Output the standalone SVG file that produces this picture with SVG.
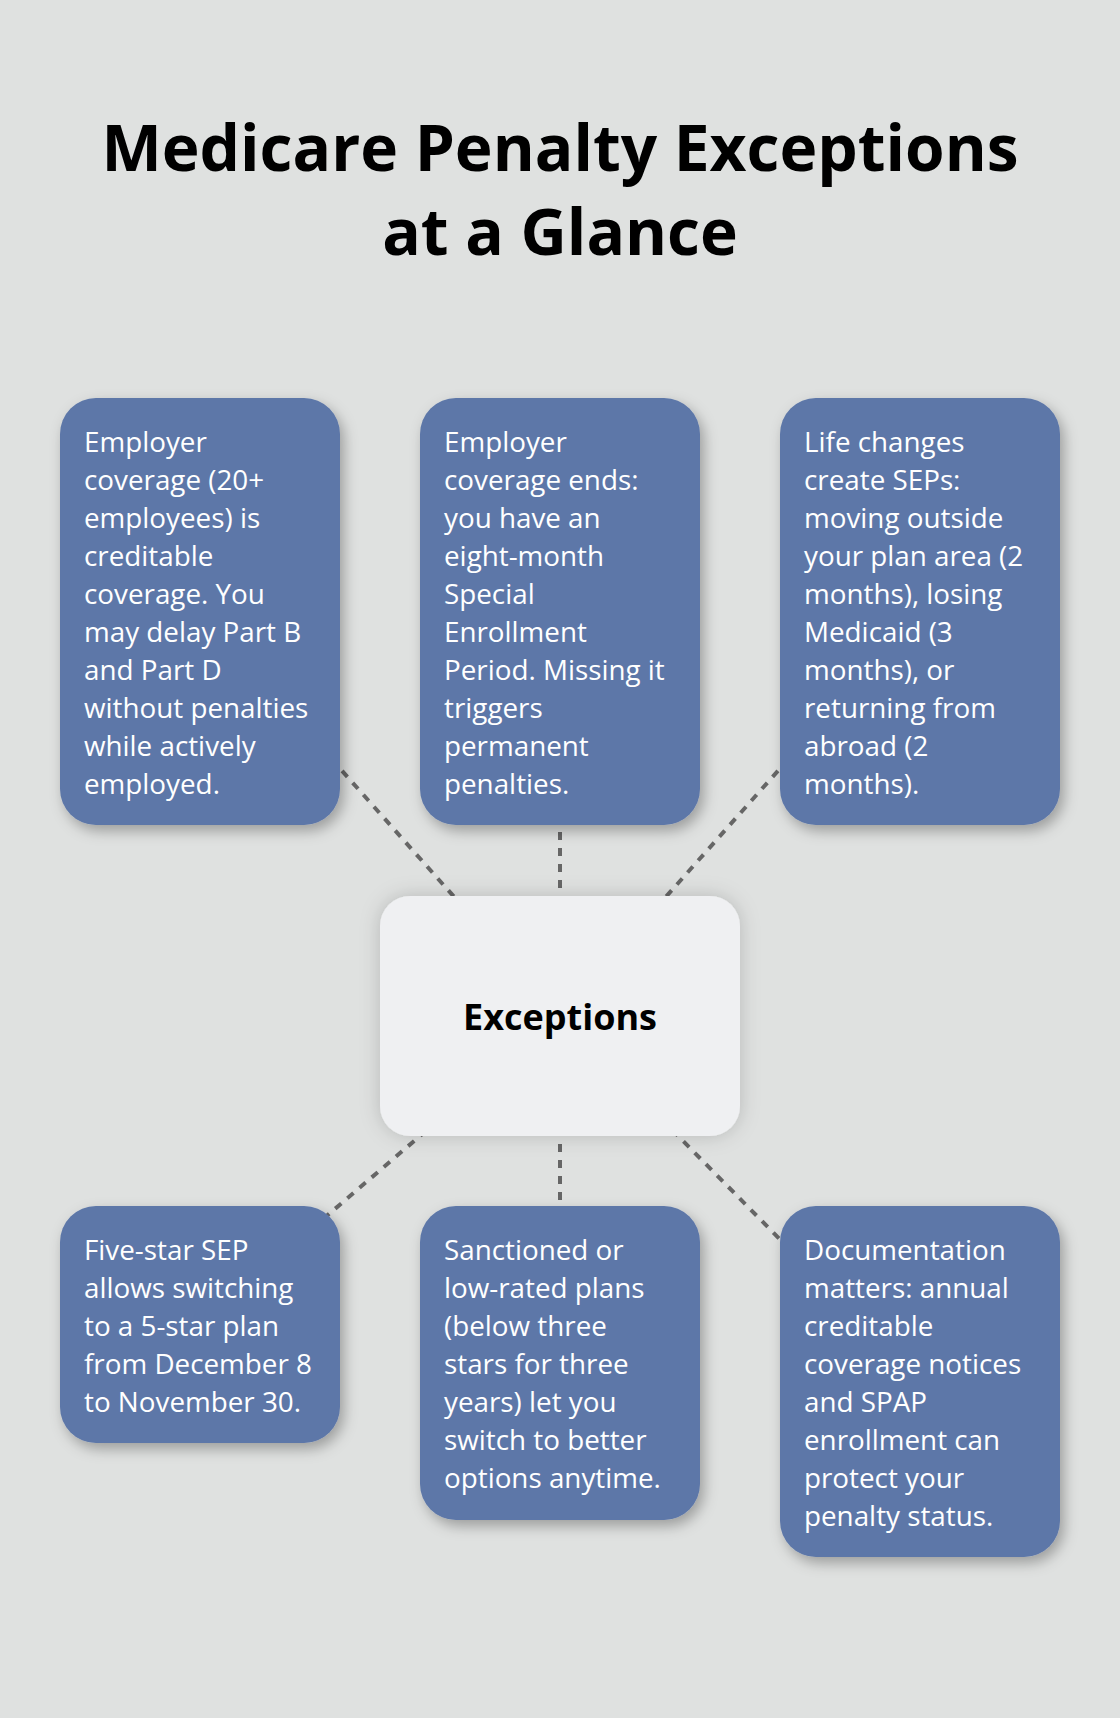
<svg xmlns="http://www.w3.org/2000/svg" width="1120" height="1718" viewBox="0 0 1120 1718">
<defs>
<filter id="sh" x="-20%" y="-20%" width="140%" height="140%">
<feDropShadow dx="4" dy="6" stdDeviation="7" flood-color="#000" flood-opacity="0.3"/>
</filter>
<filter id="shc" x="-20%" y="-20%" width="140%" height="140%">
<feDropShadow dx="0" dy="0" stdDeviation="10" flood-color="#000" flood-opacity="0.18"/>
</filter>
<style>
.title{font-family:"Open Sans","Noto Sans",sans-serif;font-weight:700;font-size:64px;fill:#000;text-anchor:middle}
.box{fill:#5d77a8;filter:url(#sh)}
.t{font-family:"Open Sans","Noto Sans",sans-serif;font-size:27.8px;fill:#fff}
.center{fill:#eff0f2;filter:url(#shc)}
.ct{font-family:"Open Sans","Noto Sans",sans-serif;font-weight:700;font-size:36px;fill:#000;text-anchor:middle}
.con{stroke:#666;stroke-width:4;stroke-dasharray:8 8;fill:none}
</style>
</defs>
<rect width="1120" height="1718" fill="#dfe1e0"/>
<g id="title">
<text class="title" x="560" y="171">Medicare Penalty Exceptions</text>
<text class="title" x="560" y="255">at a Glance</text>
</g>
<g id="connectors">
<line class="con" x1="560" y1="1016" x2="200" y2="611"/>
<line class="con" x1="560" y1="1016" x2="560" y2="611"/>
<line class="con" x1="560" y1="1016" x2="920" y2="611"/>
<line class="con" x1="560" y1="1016" x2="200" y2="1324.5"/>
<line class="con" x1="560" y1="1016" x2="560" y2="1363"/>
<line class="con" x1="560" y1="1016" x2="920" y2="1381.5"/>
</g>
<g id="center">
<rect class="center" x="380" y="896" width="360" height="240" rx="30"/>
<text class="ct" x="560" y="1030">Exceptions</text>
</g>
<g id="n1">
<rect class="box" x="60" y="398" width="280" height="427" rx="36"/>
<text class="t" x="84" y="452">
<tspan x="84">Employer</tspan>
<tspan x="84" dy="38">coverage (20+</tspan>
<tspan x="84" dy="38">employees) is</tspan>
<tspan x="84" dy="38">creditable</tspan>
<tspan x="84" dy="38">coverage. You</tspan>
<tspan x="84" dy="38">may delay Part B</tspan>
<tspan x="84" dy="38">and Part D</tspan>
<tspan x="84" dy="38">without penalties</tspan>
<tspan x="84" dy="38">while actively</tspan>
<tspan x="84" dy="38">employed.</tspan>
</text>
</g>
<g id="n2">
<rect class="box" x="420" y="398" width="280" height="427" rx="36"/>
<text class="t" x="444" y="452">
<tspan x="444">Employer</tspan>
<tspan x="444" dy="38">coverage ends:</tspan>
<tspan x="444" dy="38">you have an</tspan>
<tspan x="444" dy="38">eight-month</tspan>
<tspan x="444" dy="38">Special</tspan>
<tspan x="444" dy="38">Enrollment</tspan>
<tspan x="444" dy="38">Period. Missing it</tspan>
<tspan x="444" dy="38">triggers</tspan>
<tspan x="444" dy="38">permanent</tspan>
<tspan x="444" dy="38">penalties.</tspan>
</text>
</g>
<g id="n3">
<rect class="box" x="780" y="398" width="280" height="427" rx="36"/>
<text class="t" x="804" y="452">
<tspan x="804">Life changes</tspan>
<tspan x="804" dy="38">create SEPs:</tspan>
<tspan x="804" dy="38">moving outside</tspan>
<tspan x="804" dy="38">your plan area (2</tspan>
<tspan x="804" dy="38">months), losing</tspan>
<tspan x="804" dy="38">Medicaid (3</tspan>
<tspan x="804" dy="38">months), or</tspan>
<tspan x="804" dy="38">returning from</tspan>
<tspan x="804" dy="38">abroad (2</tspan>
<tspan x="804" dy="38">months).</tspan>
</text>
</g>
<g id="n4">
<rect class="box" x="60" y="1206" width="280" height="237" rx="36"/>
<text class="t" x="84" y="1260">
<tspan x="84">Five-star SEP</tspan>
<tspan x="84" dy="38">allows switching</tspan>
<tspan x="84" dy="38">to a 5-star plan</tspan>
<tspan x="84" dy="38">from December 8</tspan>
<tspan x="84" dy="38">to November 30.</tspan>
</text>
</g>
<g id="n5">
<rect class="box" x="420" y="1206" width="280" height="314" rx="36"/>
<text class="t" x="444" y="1260">
<tspan x="444">Sanctioned or</tspan>
<tspan x="444" dy="38">low-rated plans</tspan>
<tspan x="444" dy="38">(below three</tspan>
<tspan x="444" dy="38">stars for three</tspan>
<tspan x="444" dy="38">years) let you</tspan>
<tspan x="444" dy="38">switch to better</tspan>
<tspan x="444" dy="38">options anytime.</tspan>
</text>
</g>
<g id="n6">
<rect class="box" x="780" y="1206" width="280" height="351" rx="36"/>
<text class="t" x="804" y="1260">
<tspan x="804">Documentation</tspan>
<tspan x="804" dy="38">matters: annual</tspan>
<tspan x="804" dy="38">creditable</tspan>
<tspan x="804" dy="38">coverage notices</tspan>
<tspan x="804" dy="38">and SPAP</tspan>
<tspan x="804" dy="38">enrollment can</tspan>
<tspan x="804" dy="38">protect your</tspan>
<tspan x="804" dy="38">penalty status.</tspan>
</text>
</g>
</svg>
